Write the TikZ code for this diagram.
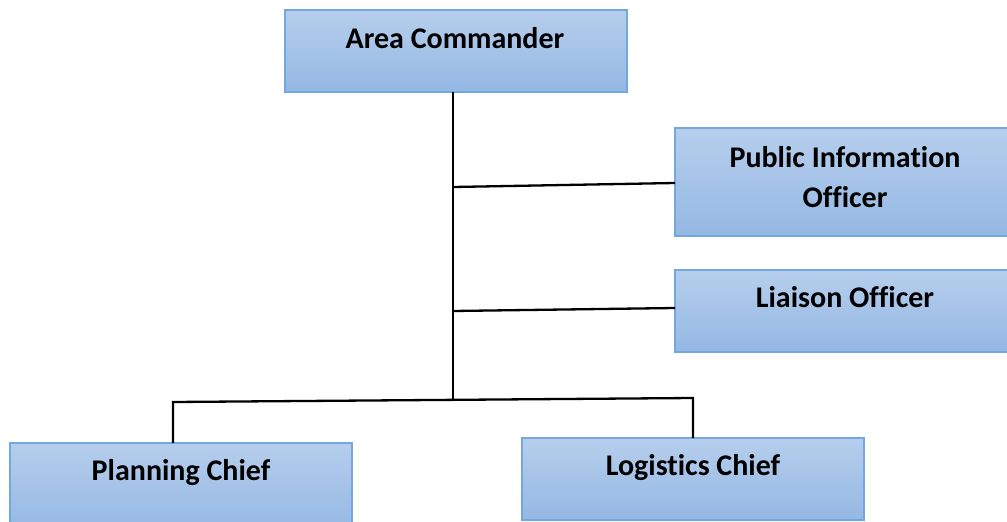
\documentclass[tikz,border=0pt]{standalone}
\usepackage{fontspec}
\setmainfont[Ligatures=NoCommon]{Carlito}
\begin{document}
\begin{tikzpicture}[x=1pt,y=-1pt,
  box/.style={draw=boxline, line width=1.3pt, top color=boxtop, bottom color=boxbot},
  lbl/.style={font=\bfseries\fontsize{30}{40}\selectfont, align=center, anchor=base, inner sep=0pt},
  conn/.style={line width=2.3pt, black}]
\definecolor{boxline}{RGB}{115,168,222}
\definecolor{boxtop}{RGB}{182,206,236}
\definecolor{boxbot}{RGB}{148,184,228}
\useasboundingbox (0,0) rectangle (1007,522);
% boxes
\path[box] (285,10) rectangle (627,92);
\node[lbl] (ac) at (455,48) {Area Commander};
\path[box] (675,128) rectangle (1010,236);
\node[lbl] (pio) at (845,207) {Public Information\\Officer};
\path[box] (675,270) rectangle (1010,352);
\node[lbl] (lo) at (845,307) {Liaison Officer};
\path[box] (10,443) rectangle (352,530);
\node[lbl] (pc) at (181,480) {Planning Chief};
\path[box] (522,438) rectangle (864,520);
\node[lbl] (lc) at (693,475) {Logistics Chief};
% anchor coordinates
\coordinate (acs) at (453,92);
\coordinate (spine) at (453,400);
\coordinate (j1) at (453,187);
\coordinate (p1) at (675,183);
\coordinate (j2) at (453,311);
\coordinate (p2) at (675,308);
\coordinate (bl) at (173,402);
\coordinate (br) at (693,398);
\coordinate (pct) at (173,443);
\coordinate (lct) at (693,438);
% connectors
\draw[conn] (acs) -- (spine);
\draw[conn] (j1) -- (p1);
\draw[conn] (j2) -- (p2);
\draw[conn, line join=miter] (pct) -- (bl) -- (br) -- (lct);
\end{tikzpicture}
\end{document}
